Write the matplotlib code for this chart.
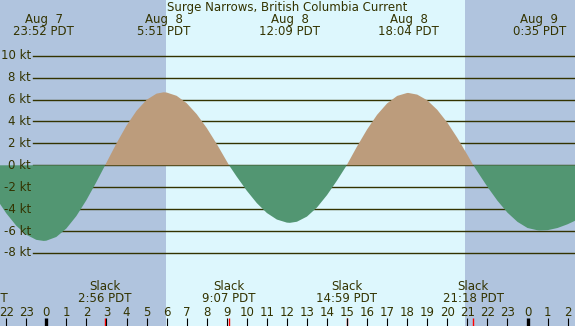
import numpy as np
import matplotlib
matplotlib.use('Agg')
import matplotlib.pyplot as plt
from matplotlib.transforms import blended_transform_factory

# current (kt) every half hour, hours from Aug 8 00:00
hours = np.arange(-2.5, 27.0, 0.5)
current = [-3.00, -4.37, -5.51, -6.33, -6.80,
           -6.88, -6.54, -5.77, -4.63, -3.18, -1.52,
           0.24, 2.00, 3.62, 4.97, 5.97, 6.54,
           6.64, 6.34, 5.67, 4.67, 3.41, 1.95, 0.37,
           -1.04, -2.32, -3.45, -4.35, -4.95, -5.23,
           -5.15, -4.68, -3.85, -2.72, -1.39,
           0.06, 1.72, 3.27, 4.61, 5.65, 6.33, 6.60,
           6.45, 5.93, 5.06, 3.90, 2.50, 0.96,
           -0.57, -1.96, -3.23, -4.32, -5.16, -5.72, -5.93,
           -5.92, -5.72, -5.38, -4.95]

# max flood / ebb along the top
peak_dates = ['Aug  7', 'Aug  8', 'Aug  8', 'Aug  8', 'Aug  9']
peak_times = ['23:52', '5:51', '12:09', '18:04', '0:35']
peak_hours = [-8/60, 5 + 51/60, 12 + 9/60, 18 + 4/60, 24 + 35/60]
peak_values = [-6.9, 6.66, -5.25, 6.6, -5.95]

# slack water along the bottom
slack_times = ['20:33', '2:56', '9:07', '14:59', '21:18']
slack_hours = [-3.45, 2 + 56/60, 9 + 7/60, 14 + 59/60, 21 + 18/60]

sunrise, sunset = 5.98, 20.9
kt_levels = [10, 8, 6, 4, 2, 0, -2, -4, -6, -8]
hour_ticks = list(range(-2, 27))

night = '#b0c4de'
day = '#ddf7fd'
flood = '#bc9c7c'
ebb = '#529672'
ink = '#333300'

W, H = 575, 326
fig = plt.figure(figsize=(W / 100, H / 100), dpi=100)
fig.patch.set_facecolor(day)
ax = fig.add_axes([0, 0, 1, 1])

# pixel mapping: x = 46.3 + 20.05*h, y = 165.3 - 10.96*kt
x0 = -46.3 / 20.05
x1 = (W - 46.3) / 20.05
ax.set_xlim(x0, x1)
ax.set_ylim((165.3 - H) / 10.96, 165.3 / 10.96)
ax.axis('off')

ax.axvspan(x0, sunrise, color=night, lw=0, zorder=0)
ax.axvspan(sunset, x1, color=night, lw=0, zorder=0)

for v in kt_levels:
    ax.axhline(v, xmin=33 / W, xmax=1, color=ink, lw=1.0, zorder=1)
    ax.text(x0 + 31 / 20.05, v, '%d kt' % v, ha='right', va='center',
            fontsize=8.5, color=ink, zorder=5)

# half-hour readings plus the labelled extremes and slacks
t = np.concatenate([hours, peak_hours, slack_hours])
c = np.concatenate([current, peak_values, np.zeros(len(slack_hours))])
order = np.argsort(t)
t, c = t[order], c[order]
ax.fill_between(t, c, 0, where=c >= 0, interpolate=True,
                color=flood, lw=0, zorder=2)
ax.fill_between(t, c, 0, where=c <= 0, interpolate=True,
                color=ebb, lw=0, zorder=2)

tr = blended_transform_factory(ax.transData, ax.transAxes)


def fy(py):
    return 1 - py / H


ax.text(0.5, fy(7.5), 'Surge Narrows, British Columbia Current', transform=ax.transAxes,
        ha='center', va='center', fontsize=8.5, color=ink)
for d, tm, h in zip(peak_dates, peak_times, peak_hours):
    ax.text(h, fy(20), d, transform=tr, ha='center', va='center', fontsize=8.5, color=ink)
    ax.text(h, fy(31.5), tm + ' PDT', transform=tr, ha='center', va='center',
            fontsize=8.5, color=ink)

for tm, h in zip(slack_times, slack_hours):
    ax.text(h, fy(287), 'Slack', transform=tr, ha='center', va='center',
            fontsize=8.5, color=ink, clip_on=True)
    ax.text(h, fy(299), tm + ' PDT', transform=tr, ha='center', va='center',
            fontsize=8.5, color=ink, clip_on=True)
    ax.vlines(h, fy(326), fy(318), transform=tr, color='#ff0000', lw=1.0, zorder=6)

for h in hour_ticks:
    ax.text(h, fy(312), str(h % 24), transform=tr, ha='center', va='center',
            fontsize=8.5, color=ink)
    if h % 24 == 0:
        ax.vlines(h, fy(326), fy(318), transform=tr, color='black', lw=2.4, zorder=6)
    else:
        ax.vlines(h, fy(326), fy(318), transform=tr, color='black', lw=0.8, zorder=6)

fig.savefig('out.png', dpi=100, facecolor=day)
